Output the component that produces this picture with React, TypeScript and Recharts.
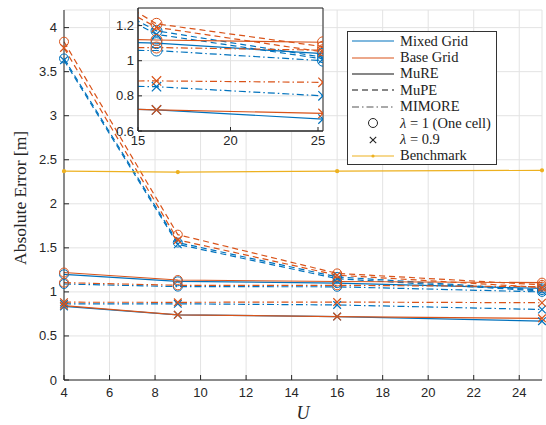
import { LineChart, Line, XAxis, YAxis, CartesianGrid, Legend, ReferenceArea } from "recharts";

// U values on the x axis
const uValues = [4, 9, 16, 25];

// Mixed Grid (blue)
const mixedMuRE1 = [1.2, 1.12, 1.1, 1.04];
const mixedMuRE09 = [0.835, 0.74, 0.72, 0.668];
const mixedMuPE1 = [3.65, 1.56, 1.17, 1.02];
const mixedMuPE09 = [3.63, 1.54, 1.15, 1.01];
const mixedMIMORE1 = [1.09, 1.06, 1.058, 1.0];
const mixedMIMORE09 = [0.865, 0.865, 0.852, 0.8];

// Base Grid (orange)
const baseMuRE1 = [1.22, 1.135, 1.118, 1.105];
const baseMuRE09 = [0.845, 0.74, 0.72, 0.7];
const baseMuPE1 = [3.84, 1.65, 1.21, 1.08];
const baseMuPE09 = [3.77, 1.59, 1.19, 1.05];
const baseMIMORE1 = [1.105, 1.075, 1.075, 1.06];
const baseMIMORE09 = [0.883, 0.882, 0.885, 0.877];

const benchmark = [2.37, 2.36, 2.37, 2.38];

const xTicks = [4, 6, 8, 10, 12, 14, 16, 18, 20, 22, 24];
const yTicks = [0, 0.5, 1, 1.5, 2, 2.5, 3, 3.5, 4];
const insetXTicks = [15, 20, 25];
const insetYTicks = [0.6, 0.8, 1, 1.2];

const BLUE = "#0072BD";
const ORANGE = "#D95319";
const YELLOW = "#EDB120";
const AXIS = "#262626";

const DASHED = "6 4";
const DASHDOT = "7 3 1.5 3";

const data = uValues.map((u, i) => ({
  u,
  mixedMuRE1: mixedMuRE1[i],
  mixedMuRE09: mixedMuRE09[i],
  mixedMuPE1: mixedMuPE1[i],
  mixedMuPE09: mixedMuPE09[i],
  mixedMIMORE1: mixedMIMORE1[i],
  mixedMIMORE09: mixedMIMORE09[i],
  baseMuRE1: baseMuRE1[i],
  baseMuRE09: baseMuRE09[i],
  baseMuPE1: baseMuPE1[i],
  baseMuPE09: baseMuPE09[i],
  baseMIMORE1: baseMIMORE1[i],
  baseMIMORE09: baseMIMORE09[i],
  benchmark: benchmark[i],
}));

type Series = { key: string; color: string; dash?: string; marker: "o" | "x" };

const series: Series[] = [
  { key: "mixedMuRE1", color: BLUE, marker: "o" },
  { key: "mixedMuRE09", color: BLUE, marker: "x" },
  { key: "mixedMuPE1", color: BLUE, dash: DASHED, marker: "o" },
  { key: "mixedMuPE09", color: BLUE, dash: DASHED, marker: "x" },
  { key: "mixedMIMORE1", color: BLUE, dash: DASHDOT, marker: "o" },
  { key: "mixedMIMORE09", color: BLUE, dash: DASHDOT, marker: "x" },
  { key: "baseMuRE1", color: ORANGE, marker: "o" },
  { key: "baseMuRE09", color: ORANGE, marker: "x" },
  { key: "baseMuPE1", color: ORANGE, dash: DASHED, marker: "o" },
  { key: "baseMuPE09", color: ORANGE, dash: DASHED, marker: "x" },
  { key: "baseMIMORE1", color: ORANGE, dash: DASHDOT, marker: "o" },
  { key: "baseMIMORE09", color: ORANGE, dash: DASHDOT, marker: "x" },
];

const tickFont = "'Liberation Sans', Arial, sans-serif";
const serif = "'Liberation Serif', 'DejaVu Serif', serif";

function marker(kind: "o" | "x", color: string, name: string, size: number) {
  return (props: any) => {
    const { cx, cy, index } = props;
    if (cx == null || cy == null) return <g key={`${name}-${index}`} />;
    if (kind === "o") {
      return <circle key={`${name}-${index}`} cx={cx} cy={cy} r={size} fill="none" stroke={color} strokeWidth={1} />;
    }
    const s = size * 0.85;
    return (
      <path
        key={`${name}-${index}`}
        d={`M${cx - s},${cy - s}L${cx + s},${cy + s}M${cx - s},${cy + s}L${cx + s},${cy - s}`}
        stroke={color}
        strokeWidth={1.2}
      />
    );
  };
}

const XTick = (props: any) => {
  const { x, y, payload, len = 5, dy = 17 } = props;
  return (
    <g>
      <line x1={x} x2={x} y1={y} y2={y - len} stroke={AXIS} />
      <text x={x} y={y + dy} textAnchor="middle" fill={AXIS} fontSize={13} fontFamily={tickFont}>
        {payload.value}
      </text>
    </g>
  );
};

const YTick = (props: any) => {
  const { x, y, payload, len = 5, gap = 7 } = props;
  return (
    <g>
      <line x1={x} x2={x + len} y1={y} y2={y} stroke={AXIS} />
      <text x={x - gap} y={y + 4.5} textAnchor="end" fill={AXIS} fontSize={13} fontFamily={tickFont}>
        {payload.value}
      </text>
    </g>
  );
};

const legendRows = [
  { label: "Mixed Grid", stroke: BLUE },
  { label: "Base Grid", stroke: ORANGE },
  { label: "MuRE", stroke: "#111" },
  { label: "MuPE", stroke: "#111", dash: DASHED },
  { label: "MIMORE", stroke: "#555", dash: DASHDOT },
  { label: "λ1", marker: "o" },
  { label: "λ09", marker: "x" },
  { label: "Benchmark", stroke: YELLOW, dot: true },
];

function LegendBox() {
  return (
    <div
      style={{
        position: "absolute",
        left: 347,
        top: 31,
        width: 150,
        height: 134,
        border: "1px solid #333",
        background: "white",
        fontFamily: serif,
        fontSize: 14.5,
        color: "#222",
        boxSizing: "border-box",
        paddingTop: 1,
      }}
    >
      {legendRows.map((r) => (
        <div key={r.label} style={{ display: "flex", alignItems: "center", height: 16.4 }}>
          <svg width={50} height={16} style={{ flex: "none" }}>
            {r.stroke && (
              <line x1={4} x2={46} y1={8} y2={8} stroke={r.stroke} strokeWidth={1.2} strokeDasharray={r.dash} />
            )}
            {r.dot && <circle cx={25} cy={8} r={1.6} fill={YELLOW} />}
            {r.marker === "o" && <circle cx={25} cy={8} r={4.5} fill="none" stroke="#222" />}
            {r.marker === "x" && <path d="M21.8,4.8L28.2,11.2M21.8,11.2L28.2,4.8" stroke="#222" strokeWidth={1.1} />}
          </svg>
          <span style={{ marginLeft: 2, whiteSpace: "nowrap" }}>
            {r.label === "λ1" ? (
              <>
                <i>λ</i> = 1 (One cell)
              </>
            ) : r.label === "λ09" ? (
              <>
                <i>λ</i> = 0.9
              </>
            ) : (
              r.label
            )}
          </span>
        </div>
      ))}
    </div>
  );
}

function renderLines(size: number, width: number) {
  return series.map((s) => (
    <Line
      key={s.key}
      dataKey={s.key}
      stroke={s.color}
      strokeWidth={width}
      strokeDasharray={s.dash}
      dot={marker(s.marker, s.color, s.key, size)}
      activeDot={false}
      isAnimationActive={false}
    />
  ));
}

export default function App() {
  return (
    <div style={{ position: "absolute", left: 0, top: 0, width: 546, height: 425, background: "white" }}>
      <LineChart width={546} height={425} data={data} margin={{ top: 10, right: 4, left: 0, bottom: 0 }}>
        <CartesianGrid stroke="#e3e3e3" />
        <XAxis
          dataKey="u"
          type="number"
          domain={[4, 25]}
          ticks={xTicks}
          height={45}
          stroke={AXIS}
          tickSize={0}
          tickMargin={0}
          tick={<XTick />}
          label={{ value: "U", position: "insideBottom", offset: 6, fill: AXIS, fontFamily: serif, fontStyle: "italic", fontSize: 18 }}
        />
        <YAxis
          type="number"
          domain={[0, 4.2]}
          ticks={yTicks}
          width={64}
          stroke={AXIS}
          tickSize={0}
          tickMargin={0}
          tick={<YTick />}
          label={{ value: "Absolute Error [m]", angle: -90, position: "insideLeft", offset: 20, dy: 70, fill: AXIS, fontFamily: serif, fontSize: 17.5 }}
        />
        {renderLines(4.5, 1.2)}
        <Line
          dataKey="benchmark"
          stroke={YELLOW}
          strokeWidth={1.2}
          dot={{ r: 1.5, fill: YELLOW, stroke: YELLOW }}
          activeDot={false}
          isAnimationActive={false}
        />
        <Legend content={() => <LegendBox />} wrapperStyle={{ position: "absolute", left: 0, top: 0, width: 0, height: 0 }} />
      </LineChart>

      <div style={{ position: "absolute", left: 108, top: 6 }}>
        <LineChart width={218} height={145} data={data} margin={{ top: 2, right: 3, left: 0, bottom: 0 }}>
          <CartesianGrid stroke="#e3e3e3" fill="white" />
          <XAxis
            dataKey="u"
            type="number"
            domain={[15, 25]}
            ticks={insetXTicks}
            allowDataOverflow
            height={20}
            stroke={AXIS}
            tickSize={0}
            tickMargin={0}
            tick={<XTick len={4} dy={14} />}
          />
          <YAxis
            type="number"
            domain={[0.6, 1.3]}
            ticks={insetYTicks}
            allowDataOverflow
            width={30}
            stroke={AXIS}
            tickSize={0}
            tickMargin={0}
            tick={<YTick len={4} gap={4} />}
          />
          {renderLines(5.5, 1.2)}
          <ReferenceArea x1={15} x2={25} y1={0.6} y2={1.3} fill="none" stroke={AXIS} strokeWidth={1} ifOverflow="visible" />
        </LineChart>
      </div>
    </div>
  );
}
